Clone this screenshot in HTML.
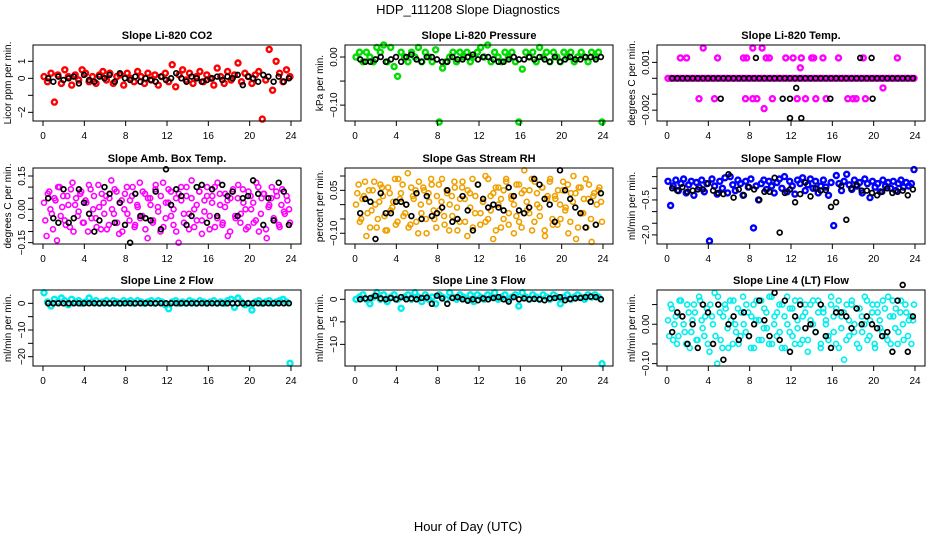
<!DOCTYPE html>
<html><head><meta charset="utf-8">
<style>
html,body{margin:0;padding:0;background:#fff;}
svg{display:block;font-family:"Liberation Sans",Arial,sans-serif;}
</style></head>
<body>
<svg id="chart" width="936" height="540" viewBox="0 0 936 540" xmlns="http://www.w3.org/2000/svg">
<rect width="936" height="540" fill="#fff"/>
<text x="468" y="14" text-anchor="middle" font-size="13">HDP_111208  Slope Diagnostics</text>
<text x="468" y="531" text-anchor="middle" font-size="13">Hour of Day (UTC)</text>
</svg>
<script>
// ---- data (hour-of-day slopes; colored = all samples, black = selected) ----
const hourTicks = [0,4,8,12,16,20,24];
const panelTitles = ["Slope Li-820 CO2","Slope Li-820 Pressure","Slope Li-820 Temp.","Slope Amb. Box Temp.","Slope Gas Stream RH","Slope Sample Flow","Slope Line 2 Flow","Slope Line 3 Flow","Slope Line 4 (LT) Flow"];
const yTitles = ["Licor ppm per min.","kPa per min.","degrees C per min.","degrees C per min.","percent per min.","ml/min per min.","ml/min per min.","ml/min per min.","ml/min per min."];
const yTickVals = [[-2,-1,0,1],[-0.10,-0.05,0],[-0.002,-0.001,0,0.001],[-0.15,-0.10,-0.05,0,0.05,0.10,0.15],[-0.10,-0.05,0,0.05,0.10],[-2.0,-1.5,-1.0,-0.5,0,0.5],[-20,-15,-10,-5,0],[-10,-5,0],[-0.10,-0.05,0,0.05]];
const yTickLabels = [["-2","","0","1"],["-0.10","","0.00"],["-0.002","","","0.001"],["-0.15","","","0.00","","","0.15"],["-0.10","","","0.05",""],["-2.0","","","-0.5","",""],["-20","","-10","","0"],["-10","-5","0"],["-0.10","","0.00",""]];
const yRanges = [[-2.51,1.96],[-0.133,0.025],[-0.00268,0.00209],[-0.156,0.186],[-0.1375,0.128],[-2.39,0.87],[-23.5,5],[-14.8,2.07],[-0.106,0.087]];
const colors = ["#ff0000","#00dd00","#ff00ff","#ff00ff","#f0a000","#0000ff","#00eeee","#00eeee","#00eeee"];
const strokeW = [2.4,2.4,2.4,1.6,1.6,2.4,2.4,2.4,1.6];

const colVals = [
[0.1,-0.2,0.3,-1.4,0.2,-0.3,0.5,0.1,-0.4,0.2,-0.1,0.5,0.3,-0.2,0.1,-0.3,0.2,0.4,-0.1,0.3,-0.3,0.1,0.2,-0.4,0.3,0.0,-0.2,0.4,0.1,-0.3,0.3,-0.1,0.2,-0.4,0.1,0.3,-0.2,0.8,-0.5,0.2,0.5,-0.1,0.3,-0.3,0.1,0.4,-0.2,0.2,0.0,-0.4,0.6,0.1,-0.3,0.4,-0.1,0.2,0.9,-0.2,0.3,0.1,-0.3,0.2,0.4,-2.4,-0.1,1.7,-0.7,1.0,0.3,-0.2,0.5,0.1],
[0.00,0.01,-0.01,0.01,0.00,-0.01,0.02,0.01,0.025,-0.01,0.02,-0.02,-0.04,0.01,0.00,-0.01,0.01,0.00,0.02,-0.01,0.01,0.00,-0.01,0.015,-0.135,-0.023,-0.01,0.00,0.01,-0.01,0.01,0.00,0.01,-0.01,0.00,0.01,0.02,0.00,0.025,-0.01,0.01,0.00,-0.01,0.01,0.00,0.01,-0.01,-0.135,-0.025,0.01,0.00,0.01,-0.01,0.02,0.00,0.01,-0.01,0.01,0.00,-0.01,0.01,0.00,0.01,-0.01,0.00,0.01,0.00,-0.01,0.01,0.00,0.01,-0.135],
[0,0,0,0,0,0,0,0,0,0,0,0,0,0,0,0,0,0,0,0,0,0,0,0,0,0,0,0,0,0,0,0,0,0,0,0,0,0,0,0,0,0,0,0,0,0,0,0,0,0,0,0,0,0,0,0,0,0,0,0,0,0,0,0,0,0,0,0,0,0,0,0,0,0,0,0,0,0,0,0],
[0.03,-0.12,0.08,-0.02,0.05,-0.14,0.1,0.01,-0.05,0.06,-0.08,0.12,0.02,-0.03,0.07,-0.06,0.04,-0.1,0.09,0.0,-0.04,0.11,-0.09,0.03,0.06,-0.07,0.13,-0.02,0.08,-0.11,0.04,0.0,0.1,-0.05,0.06,-0.08,0.02,0.12,-0.03,0.07,-0.13,0.05,-0.06,0.09,0.01,-0.1,0.12,-0.04,0.03,0.08,-0.07,0.05,-0.15,0.1,-0.02,0.06,-0.09,0.13,0.0,-0.05,0.08,-0.11,0.04,0.1,-0.03,0.06,-0.08,0.12,0.02,-0.06,0.07,-0.12,0.05,0.09,-0.04,0.11,-0.02,0.03,-0.09,0.08,0.0,-0.06,0.12,-0.1,0.05,0.07,-0.13,0.02,0.1,-0.05,0.06,-0.08,0.09,-0.02,0.04,-0.06],
[0.0,0.07,-0.05,0.03,-0.11,0.05,-0.02,0.08,-0.08,0.01,0.06,-0.04,-0.09,0.04,-0.01,0.09,-0.06,0.02,0.07,-0.03,0.11,-0.07,0.03,0.05,-0.1,0.0,0.06,-0.05,0.04,0.09,-0.02,-0.08,0.07,0.01,-0.04,0.05,-0.09,0.03,0.08,-0.01,-0.06,0.06,0.02,-0.11,0.04,0.09,-0.03,0.07,-0.07,0.01,0.1,-0.05,0.03,-0.12,0.06,0.0,-0.08,0.05,0.09,-0.03,0.02,-0.1,0.07,-0.06,0.04,0.12,-0.02,0.05,-0.09,0.08,0.0,-0.04,0.06,-0.11,0.03,0.09,-0.07,0.02,0.05,-0.05,0.08,-0.01,-0.1,0.04,0.1,-0.12,0.06,-0.03,0.02,-0.08,0.07,-0.13,0.04,0.0,0.06,-0.06],
[0.3,-0.74,0.1,0.35,-0.1,0.2,0.4,-0.2,0.15,0.3,-0.3,0.25,0.05,0.35,-0.15,0.2,-2.26,0.4,0.1,-0.25,0.3,0.0,0.45,-0.2,0.5,0.15,-0.1,0.35,0.2,-0.3,0.3,0.05,0.4,-1.7,0.1,-0.5,0.2,0.35,-0.05,0.3,0.1,-0.2,0.25,0.4,0.0,0.5,-0.15,0.3,0.1,-0.25,0.35,0.2,0.45,-0.1,0.15,0.4,0.0,0.3,-0.2,0.1,0.35,0.05,-0.3,0.25,-1.6,0.55,0.2,-0.1,0.3,0.6,0.15,-0.05,0.35,0.1,0.25,-0.2,0.4,0.2,-0.4,0.3,0.05,0.2,-0.15,0.35,0.1,0.25,0.0,0.3,-0.1,0.2,0.35,0.05,0.25,0.1,0.2,0.8],
[4,0.5,-1,1.5,0.5,2,1,-0.5,1.5,0.5,1,0,0.5,2,0.5,1,0,0.5,1,0,1,0.5,0,1,0.5,1,0,1,0.5,0,0.5,1,0,1,0.5,-0.5,-2,0.5,1,0,0.5,0,1,0.5,0,1,0.5,0,0.5,1,0,0.5,0,1,1.5,-1.5,2,0.5,-0.5,0,-2.5,0.5,1,0,0.5,1,0,0.5,1,1.5,0.5,-22.5],
[0,0.5,1,0,-1,0.5,1.5,0,1,-0.5,0.5,1,0,-2,0.5,1,0,1.5,0.5,-0.5,1,0,0.5,-1,1,0.5,0,1.5,0.5,0,1,0.5,0,1,-0.5,1,0.5,0,1,0.5,1.5,0,0.5,1,0,0.5,1,-1.5,1.5,0.5,0,1,0.5,0,1,0.5,0,1,0.5,-1,0.5,1,0,0.5,1,0.5,0,1,0.5,1,0.5,-14.3],
[0.01,0.05,-0.04,0.02,-0.03,0.06,0.0,-0.05,0.03,-0.02,0.05,-0.04,0.07,0.01,-0.03,0.04,-0.07,0.02,0.08,-0.1,0.03,-0.06,0.05,-0.01,0.06,-0.05,0.0,0.04,-0.03,0.07,-0.02,0.03,-0.06,0.05,0.01,-0.04,0.06,-0.01,0.03,-0.05,0.07,0.0,-0.03,0.05,-0.06,0.02,0.07,-0.02,0.04,-0.05,0.01,0.06,-0.04,0.03,-0.07,0.05,0.0,-0.02,0.06,-0.05,0.03,0.01,-0.04,0.07,-0.02,0.04,-0.06,0.02,-0.09,0.05,-0.03,0.06,0.0,-0.05,0.04,-0.02,0.07,-0.04,0.01,0.05,-0.06,0.03,-0.01,0.06,-0.03,0.07,-0.05,0.02,0.04,-0.02,0.06,-0.04,0.03,0.01,-0.05,0.05]
];
// additional samples for the noisy panels (amb temp, RH, line 4)
const colVals2 = [
[],[],[],
[-0.05,0.07,0.0,-0.09,0.04,0.1,-0.03,0.06,-0.07,0.02,0.09,-0.1,0.05,-0.01,0.08,-0.06,0.03,0.11,-0.04,0.06,-0.08,0.01,0.07,-0.02,-0.09,0.05,0.0,0.09,-0.06,0.03,-0.1,0.07,-0.02,0.04,0.1,-0.07,0.01,-0.04,0.08,-0.09,0.05,0.02,-0.05,0.11,-0.01,0.06,-0.08,0.03,0.09,-0.03,0.0,-0.1,0.07,0.04,-0.06,0.1,-0.02,0.05,-0.08,0.02,0.08,-0.05,-0.01,0.06,-0.09,0.03,0.1,-0.04,0.07,-0.07,0.01,0.04,-0.1,0.08,-0.03,0.05,-0.06,0.09,0.0,-0.08,0.06,0.03,-0.05,0.1,-0.02,0.07,-0.09,0.01,0.05,-0.04,0.08,-0.07,0.02,-0.01,0.06,0.0],
[0.04,-0.06,0.02,0.08,-0.03,-0.08,0.05,0.0,-0.05,0.07,0.03,-0.09,0.06,-0.02,0.01,-0.07,0.09,0.04,-0.04,0.0,-0.08,0.06,0.02,-0.06,0.08,-0.03,0.05,-0.1,0.01,0.07,-0.05,0.03,-0.02,0.09,-0.07,0.04,0.0,-0.04,0.06,-0.09,0.02,0.08,-0.06,0.05,-0.01,-0.08,0.03,0.07,-0.03,0.01,-0.06,0.09,-0.02,0.04,-0.09,0.06,0.02,-0.05,0.08,-0.07,0.03,0.0,-0.04,0.07,-0.08,0.05,0.01,-0.03,0.09,-0.06,0.04,-0.01,0.06,-0.09,0.02,0.08,-0.05,0.03,-0.07,0.0,0.05,-0.02,0.07,-0.06,0.01,0.04,-0.08,0.06,-0.03,0.09,0.02,-0.05,0.03,-0.07,0.05,0.01],
[],[],[],
[-0.03,0.04,0.0,-0.05,0.06,0.02,-0.02,0.05,-0.06,0.01,0.03,-0.04,0.06,-0.01,0.02,-0.05,0.05,0.0,-0.03,0.07,-0.04,0.02,0.04,-0.06,0.01,0.06,-0.02,-0.05,0.03,0.0,0.05,-0.03,0.02,-0.06,0.06,0.01,-0.04,0.04,-0.01,0.07,-0.05,0.02,0.03,-0.02,0.05,-0.06,0.0,0.04,-0.03,0.06,-0.01,-0.05,0.02,0.05,-0.04,0.01,0.06,-0.02,0.03,-0.06,0.04,0.0,-0.03,0.05,0.02,-0.05,0.06,-0.01,0.03,-0.04,0.01,0.05,-0.02,0.04,-0.06,0.02,0.0,0.06,-0.03,0.03,-0.05,0.05,0.01,-0.02,0.04,-0.04,0.02,0.06,-0.01,-0.05,0.03,0.0,0.05,-0.03,0.02,0.01]
];
const blackVals = [
[0.0,-0.2,0.1,-0.1,0.0,0.1,-0.3,0.2,-0.1,-0.2,0.1,0.0,0.2,-0.2,0.3,0.0,-0.1,0.1,-0.2,0.0,-0.1,-0.2,0.1,-0.1,0.0,0.3,0.0,-0.2,0.1,0.0,-0.2,-0.1,0.0,0.1,-0.1,0.1,0.0,0.2,-0.4,0.1,0.0,-0.2,0.2,0.1,-0.2,0.1,-0.2,0.0],
[-0.005,-0.01,-0.01,-0.005,0.00,-0.01,-0.005,0.00,-0.01,0.00,0.005,-0.005,-0.01,0.00,0.00,-0.005,-0.01,-0.01,0.00,-0.005,-0.005,0.00,0.005,-0.005,0.00,0.00,-0.005,-0.01,-0.01,-0.005,0.00,-0.005,-0.005,0.00,-0.005,0.00,-0.005,-0.01,0.00,-0.01,-0.005,0.00,-0.005,-0.005,0.00,0.00,-0.005,0.00],
[0,0,0,0,0,0,0,0,0,0,0,0,0,0,0,0,0,0,0,0,0,0,0,0,0,0,0,0,0,0,0,0,0,0,0,0,0,0,0,0,0,0,0,0,0,0,0,0],
[0.05,-0.04,-0.06,0.09,-0.06,-0.04,0.09,0.03,-0.02,-0.1,-0.05,0.1,0.07,-0.06,0.03,-0.07,-0.15,0.07,-0.03,-0.04,-0.05,0.08,-0.09,0.18,0.02,0.09,0.06,-0.07,-0.03,0.1,0.11,-0.06,0.09,-0.03,0.11,0.06,0.08,-0.03,0.05,0.06,0.13,0.07,-0.07,0.05,-0.05,0.12,0.08,-0.07],
[-0.03,0.02,0.01,-0.12,0.04,-0.03,-0.03,0.01,0.01,0.0,-0.04,0.04,-0.05,0.03,-0.04,-0.03,-0.01,0.05,-0.06,-0.05,0.03,-0.02,-0.09,0.07,0.02,-0.01,0.0,-0.01,-0.02,0.06,0.03,-0.02,-0.03,-0.01,0.09,0.07,0.02,0.0,-0.06,0.12,0.05,0.02,-0.01,-0.03,-0.08,0.01,-0.07,0.04],
[0.0,-0.1,0.05,-0.15,-0.1,-0.05,-0.05,0.2,-0.1,-0.2,-0.25,0.6,-0.4,-0.05,-0.3,0.05,-0.05,-0.5,-0.15,-0.15,0.45,-1.9,-0.2,-0.05,-0.6,-0.25,0.25,-0.35,0.0,-0.1,-0.08,-0.8,-0.6,0.1,-1.35,0.0,0.15,-0.1,-0.1,-0.2,-0.3,-0.15,0.0,-0.2,-0.15,-0.1,-0.3,-0.05],
[0,0,0,0,0,0,0,0,0,0,0,0,0,0,0,0,0,0,0,0,0,0,0,0,0,0,0,0,0,0,0,0,0,0,0,0,0,0,0,0,0,0,0,0,0,0,0,0],
[0,0.2,0.3,0.8,0.2,0,0.3,0,0.5,0,0.2,0,0.3,0.4,-1,0.8,0.2,-1,0.3,0.5,0,-0.3,0,-0.2,0.2,0,0.3,0.5,0,-0.5,0.5,0,0.2,0,0.1,0,-0.2,0.2,0.3,0.5,-0.2,0.1,0.2,0.3,0.5,0.6,0.5,0],
[-0.02,0.03,0.02,-0.05,0.0,-0.06,0.05,0.03,-0.05,0.05,-0.09,0.0,0.02,-0.04,0.03,-0.03,0.0,0.06,0.01,-0.03,0.08,-0.04,0.06,-0.07,0.02,0.05,-0.01,0.0,-0.02,0.05,-0.03,-0.06,0.03,0.03,0.02,-0.01,0.04,0.0,0.02,0.0,-0.01,-0.03,-0.02,-0.07,0.06,0.1,-0.07,0.02]
];
// off-level points for the quantized Li-820 temperature panel
const tempColHours = [1.3,1.9,3.1,3.5,4.6,4.9,7.4,7.6,7.7,8.3,8.3,8.7,9.2,9.4,9.6,9.9,10.2,11.5,12.2,12.6,12.9,13.0,13.4,14.0,14.2,14.4,15.1,15.4,16.6,17.5,18.0,18.3,19.0,19.2,20.9,22.3];
const tempColVals = [0.00128,0.00128,-0.00128,0.0019,-0.00128,0.00128,0.00128,-0.00128,0.00128,0.0019,-0.00128,-0.00128,0.0019,-0.0019,0.00128,0.00128,-0.00128,0.00128,0.00128,-0.00128,0.00066,0.00128,-0.00128,0.00128,0.00128,-0.00128,0.00128,-0.00128,0.00128,-0.00128,-0.00128,-0.00128,0.00128,-0.00128,-0.0006,0.00128];
const tempBlackHours = [8.6,5.2,11.2,11.9,11.9,12.5,13.0,15.8,18.7,19.8,19.9];
const tempBlackVals = [0.00128,-0.00128,-0.00128,-0.00128,-0.0025,-0.0006,-0.0025,-0.00128,0.00128,0.00128,-0.00128];

// ---- drawing ----
const svg = document.getElementById('chart');
const NS = 'http://www.w3.org/2000/svg';
function mk(tag, attrs, parent){
  const e = document.createElementNS(NS, tag);
  for (const k in attrs) e.setAttribute(k, attrs[k]);
  (parent||svg).appendChild(e);
  return e;
}
const rowTops = [45,168,290];
const boxH = 76;
for (let p=0; p<9; p++){
  const col = p%3, row = Math.floor(p/3);
  const off = col*312;
  const bl = off+33, br = off+301, bt = rowTops[row], bb = bt+boxH;
  const h0 = off+43, h24 = off+291;
  const [ymin,ymax] = yRanges[p];
  const xs = h => h0 + (h/24)*(h24-h0);
  const ys = v => bb - (v-ymin)/(ymax-ymin)*(bb-bt);
  const g = mk('g', {});
  
  
  const t = mk('text', {x:(bl+br)/2, y:bt-6, 'text-anchor':'middle', 'font-size':'11', 'font-weight':'bold'}, g);
  t.textContent = panelTitles[p];
  
  
  const yt = mk('text', {transform:`translate(${off+11},${(bt+bb)/2}) rotate(-90)`, 'text-anchor':'middle', 'font-size':'10'}, g);
  yt.textContent = yTitles[p];
  
  
  // colored points
  const cg = mk('g', {fill:'none', stroke:colors[p], 'stroke-width':String(strokeW[p])}, g);
  
  
  const cv = colVals[p];
  cv.forEach((v,i)=>{
    const h = 0.1 + i*23.8/(cv.length-1);
    const c = mk('circle', {cx:xs(h).toFixed(1), cy:ys(v).toFixed(1), r:'2.5'}, cg);
    
    
  });
  const cv2 = colVals2[p];
  cv2.forEach((v,i)=>{
    const h = 0.22 + i*23.6/(cv2.length-1);
    const c = mk('circle', {cx:xs(h).toFixed(1), cy:ys(v).toFixed(1), r:'2.5'}, cg);
    
    
  });
  if (p===2){
    tempColHours.forEach((h,i)=>{
      const c = mk('circle', {cx:xs(h).toFixed(1), cy:ys(tempColVals[i]).toFixed(1), r:'2.5'}, cg);
      
      
    });
  }
  // black points
  const kg = mk('g', {fill:'none', stroke:'#000', 'stroke-width':'1.7'}, g);
  
  
  const kv = blackVals[p];
  kv.forEach((v,i)=>{
    const h = 0.5 + i*23.3/(kv.length-1);
    const c = mk('circle', {cx:xs(h).toFixed(1), cy:ys(v).toFixed(1), r:'2.4'}, kg);
    
    
  });
  if (p===2){
    tempBlackHours.forEach((h,i)=>{
      const c = mk('circle', {cx:xs(h).toFixed(1), cy:ys(tempBlackVals[i]).toFixed(1), r:'2.4'}, kg);
      
      
    });
  }
  // frame
  const fr = mk('rect', {x:bl, y:bt, width:br-bl, height:bb-bt, fill:'none', stroke:'#000', 'stroke-width':'1'}, g);
  
  
  // x axis
  const xa = mk('g', {}, g);
  
  
  hourTicks.forEach(h=>{
    mk('line', {x1:xs(h), x2:xs(h), y1:bb, y2:bb+5, stroke:'#000'}, xa);
    const tl = mk('text', {x:xs(h), y:bb+18, 'text-anchor':'middle', 'font-size':'10'}, xa);
    tl.textContent = String(h);
  });
  // y axis
  const ya = mk('g', {}, g);
  
  
  yTickVals[p].forEach((v,i)=>{
    mk('line', {x1:bl-5, x2:bl, y1:ys(v), y2:ys(v), stroke:'#000'}, ya);
    const lab = yTickLabels[p][i];
    if (lab){
      const tl = mk('text', {transform:`translate(${off+25},${ys(v)}) rotate(-90)`, 'text-anchor':'middle', 'font-size':'10'}, ya);
      tl.textContent = lab.replace('-', '\u2212');
    }
  });
}
</script>
</body></html>
